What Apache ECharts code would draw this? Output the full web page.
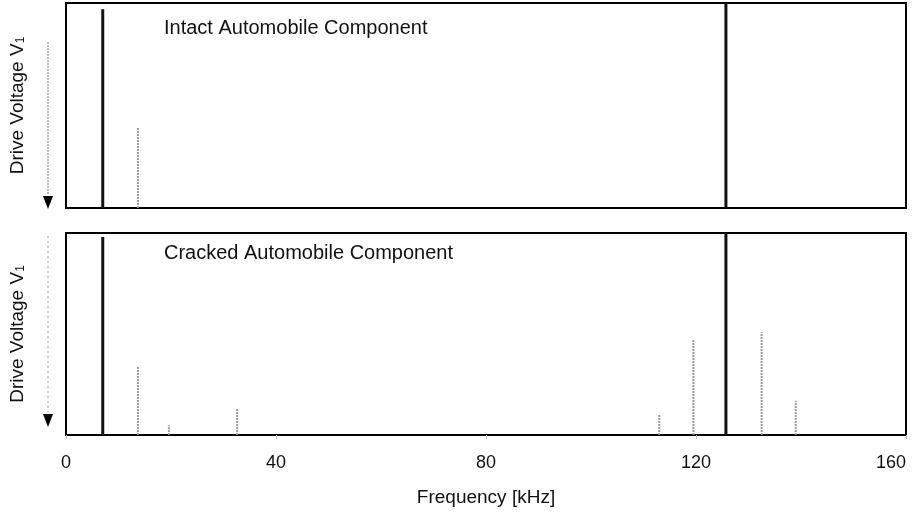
<!DOCTYPE html>
<html><head><meta charset="utf-8">
<script src="https://cdn.jsdelivr.net/npm/echarts@6/dist/echarts.min.js"></script>
<style>html,body{margin:0;padding:0;background:#fff}#c{width:915px;height:517px}</style>
</head><body><div id="c"></div>
<script>
const xTicks = [0, 40, 80, 120, 160];
const panelTitles = ['Intact Automobile Component', 'Cracked Automobile Component'];
// strong (dark) resonance lines: frequency [kHz], relative height
const strongFreqTop = [7.0, 125.7];
const strongHeightTop = [0.97, 1.0];
const strongFreqBot = [7.0, 125.7];
const strongHeightBot = [0.98, 1.0];
// weak (grey, speckled) lines
const weakFreqTop = [13.7];
const weakHeightTop = [0.39];
const weakFreqBot = [13.7, 19.6, 32.6, 113.0, 119.5, 132.5, 139.0];
const weakHeightBot = [0.34, 0.05, 0.13, 0.10, 0.47, 0.51, 0.17];

const font = '"Liberation Sans", Arial, Helvetica, sans-serif';
function lines(freqs, heights, gi, strong) {
  return freqs.map((f, i) => ({
    type: 'line', xAxisIndex: gi, yAxisIndex: gi, symbol: 'none', silent: true,
    data: [[f, 0], [f, heights[i]]],
    lineStyle: strong ? { color: '#111', width: 3 } : { color: '#9a9a9a', width: 2, type: [2, 1] }
  }));
}
const grids = [
  { left: 66, right: 9, top: 3, height: 205 },
  { left: 66, right: 9, top: 233, height: 202 }
].map(g => Object.assign(g, { show: true, borderColor: '#000', borderWidth: 2, backgroundColor: '#fff', containLabel: false, outerBoundsMode: 'none' }));

const xAxes = [0, 1].map(i => ({
  type: 'value', gridIndex: i, min: 0, max: 160, interval: 40,
  axisLine: { show: false }, splitLine: { show: false },
  axisTick: { show: i === 1, length: 4, lineStyle: { color: '#bbb' } },
  axisLabel: { show: i === 1, color: '#111', fontSize: 18, fontFamily: font, margin: 19, alignMaxLabel: 'right',
    formatter: v => xTicks.includes(v) ? String(v) : '' },
  name: i === 1 ? 'Frequency [kHz]' : '', nameLocation: 'middle', nameGap: 53,
  nameTextStyle: { color: '#111', fontSize: 19, fontFamily: font }
}));
const yAxes = [0, 1].map(i => ({
  type: 'value', gridIndex: i, min: 0, max: 1,
  axisLine: { show: false }, axisTick: { show: false }, axisLabel: { show: false }, splitLine: { show: false },
  name: 'Drive Voltage V{s|1}', nameLocation: 'middle', nameRotate: 90, nameGap: 39,
  nameTextStyle: { color: '#111', fontSize: 19, fontFamily: font, rich: { s: { fontSize: 12, fontFamily: font, color: '#111', padding: [7, 0, 0, 0] } } }
}));

const chart = echarts.init(document.getElementById('c'), null, { renderer: 'canvas' });
chart.setOption({
  animation: false,
  backgroundColor: '#fff',
  grid: grids,
  xAxis: xAxes,
  yAxis: yAxes,
  title: [
    { text: panelTitles[0], left: 164, top: 18, textStyle: { fontSize: 20, fontWeight: 'normal', color: '#111', fontFamily: font }, padding: 0 },
    { text: panelTitles[1], left: 164, top: 243, textStyle: { fontSize: 20, fontWeight: 'normal', color: '#111', fontFamily: font }, padding: 0 }
  ],
  graphic: [
    { type: 'line', shape: { x1: 48, y1: 42, x2: 48, y2: 194 }, style: { stroke: '#777', lineWidth: 1, lineDash: [2, 1] } },
    { type: 'polygon', shape: { points: [[43, 196], [53, 196], [48, 209]] }, style: { fill: '#000' } },
    { type: 'line', shape: { x1: 48, y1: 236, x2: 48, y2: 412 }, style: { stroke: '#999', lineWidth: 1, lineDash: [2, 3] } },
    { type: 'polygon', shape: { points: [[43, 414], [53, 414], [48, 427]] }, style: { fill: '#000' } }
  ],
  series: [].concat(
    lines(weakFreqTop, weakHeightTop, 0, false),
    lines(weakFreqBot, weakHeightBot, 1, false),
    lines(strongFreqTop, strongHeightTop, 0, true),
    lines(strongFreqBot, strongHeightBot, 1, true)
  )
});
</script></body></html>
